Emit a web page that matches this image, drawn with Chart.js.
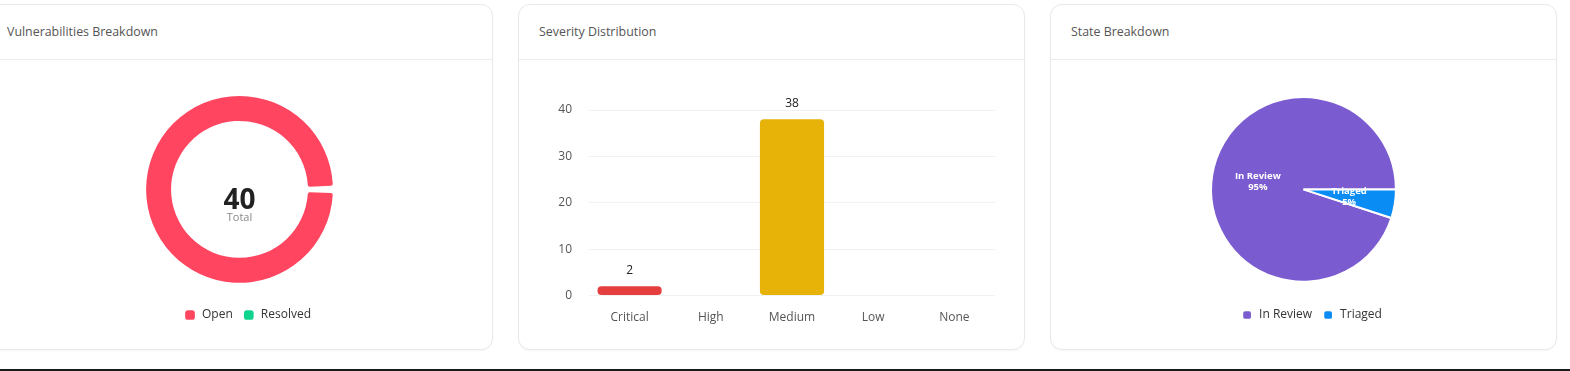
<!DOCTYPE html>
<html>
<head>
<meta charset="utf-8">
<script src="https://cdn.jsdelivr.net/npm/chart.js@4.4.1/dist/chart.umd.min.js"></script>
<style>
  html, body { margin: 0; padding: 0; background: #fff; width: 1570px; height: 371px; overflow: hidden; font-family: "Open Sans", "Noto Sans", sans-serif; }
  .card { position: absolute; top: 4px; width: 505px; height: 344px; border: 1px solid #e9e9e9; border-radius: 12px; background: #fff; box-shadow: 0 1px 2px rgba(0,0,0,0.04); }
  .hdr { position: absolute; left: 0; top: 0; right: 0; height: 54px; border-bottom: 1px solid #ececec; }
  .hdr span { position: absolute; left: 20px; top: 18px; font-size: 12.4px; color: #555; }
  .body { position: absolute; left: -1px; top: 55px; width: 507px; height: 290px; }
  .bottomline { position: absolute; left: 0; top: 369px; width: 1570px; height: 2px; background: #1a1a1a; }
</style>
</head>
<body>
<div class="card" style="left:-14px"><div class="hdr"><span>Vulnerabilities Breakdown</span></div><div class="body"><canvas id="c1" width="507" height="290"></canvas></div></div>
<div class="card" style="left:518px"><div class="hdr"><span>Severity Distribution</span></div><div class="body"><canvas id="c2" width="507" height="290"></canvas></div></div>
<div class="card" style="left:1050px"><div class="hdr"><span>State Breakdown</span></div><div class="body"><canvas id="c3" width="507" height="290"></canvas></div></div>
<div class="bottomline"></div>
<script>
// ---- data ----
const statusLabels = ['Open', 'Resolved'];
const statusValues = [40, 0];
const statusColors = ['#ff4560', '#10d48e'];

const severityLabels = ['Critical', 'High', 'Medium', 'Low', 'None'];
const severityValues = [2, 0, 38, 0, 0];
const severityColors = ['#e53e3e', '#f97316', '#e8b308', '#3b82f6', '#9ca3af'];
const severityTicks = [0, 10, 20, 30, 40];

const stateLabels = ['In Review', 'Triaged'];
const stateValues = [38, 2];
const statePercents = ['95%', '5%'];
const stateColors = ['#7b5cd0', '#0a8cf5'];

const FONT = '"Open Sans", "Noto Sans", sans-serif';
Chart.defaults.font.family = FONT;
Chart.defaults.font.size = 12;
Chart.defaults.color = '#333';
Chart.defaults.animation = false;

const legendOpts = {
  position: 'bottom',
  title: { display: true, text: '', padding: { top: 15, bottom: 0 }, font: { size: 1 } },
  labels: { usePointStyle: true, pointStyle: 'rectRounded', boxWidth: 13, boxHeight: 8, padding: 10, color: '#333', font: { size: 12 } }
};
// nudge legend slightly right, as in the reference
const legendShift = {
  id: 'legendShift',
  afterLayout(chart) {
    if (chart.legend) { chart.legend.left += 8; chart.legend.right += 8; }
  }
};

// ---- donut ----
const centerText = {
  id: 'centerText',
  afterDraw(chart) {
    const arc = chart.getDatasetMeta(0).data[0];
    const x = arc.x, y = arc.y;
    const ctx = chart.ctx;
    ctx.save();
    ctx.textAlign = 'center';
    ctx.textBaseline = 'middle';
    ctx.fillStyle = '#222';
    ctx.font = 'bold 28px ' + FONT;
    const total = statusValues.reduce((a, b) => a + b, 0);
    ctx.fillText(String(total), x, y + 12);
    ctx.fillStyle = '#888';
    ctx.font = '11px ' + FONT;
    ctx.fillText('Total', x, y + 28);
    ctx.restore();
  }
};
new Chart(document.getElementById('c1'), {
  type: 'doughnut',
  data: { labels: statusLabels, datasets: [{ data: statusValues, backgroundColor: statusColors, borderWidth: 0, spacing: 2, borderRadius: 2 }] },
  options: {
    responsive: false, rotation: 90, cutout: '73%',
    layout: { padding: { top: 36, bottom: 19 } },
    plugins: { legend: legendOpts, tooltip: { enabled: false } }
  },
  plugins: [centerText, legendShift]
});

// ---- bars ----
const barLabels = {
  id: 'barLabels',
  afterDatasetsDraw(chart) {
    const ctx = chart.ctx;
    const meta = chart.getDatasetMeta(0);
    ctx.save();
    ctx.textAlign = 'center';
    ctx.textBaseline = 'middle';
    ctx.fillStyle = '#222';
    ctx.font = '12px ' + FONT;
    meta.data.forEach((bar, i) => {
      const v = severityValues[i];
      if (v > 0) ctx.fillText(String(v), bar.x, bar.y - 16);
    });
    ctx.restore();
  }
};
new Chart(document.getElementById('c2'), {
  type: 'bar',
  data: { labels: severityLabels, datasets: [{ data: severityValues, backgroundColor: severityColors, borderRadius: 4, borderSkipped: false, categoryPercentage: 1, barPercentage: 0.79 }] },
  options: {
    responsive: false,
    layout: { padding: { top: 50, right: 30, bottom: 10, left: 0 } },
    plugins: { legend: { display: false }, tooltip: { enabled: false } },
    scales: {
      x: {
        grid: { display: false, drawTicks: false },
        border: { display: false },
        ticks: { color: '#555', padding: 15, font: { size: 12 } }
      },
      y: {
        min: 0, max: 40,
        afterBuildTicks(axis) { axis.ticks = severityTicks.map(v => ({ value: v })); },
        afterFit(axis) { axis.width = 71; },
        grid: { color: '#f2f2f2', drawTicks: false },
        border: { display: false },
        ticks: { color: '#555', padding: 17, font: { size: 12 } }
      }
    }
  },
  plugins: [barLabels]
});

// ---- pie ----
const pieLabels = {
  id: 'pieLabels',
  afterDatasetsDraw(chart) {
    const ctx = chart.ctx;
    const meta = chart.getDatasetMeta(0);
    ctx.save();
    ctx.textAlign = 'center';
    ctx.textBaseline = 'middle';
    ctx.fillStyle = '#fff';
    ctx.font = 'bold 9.5px ' + FONT;
    meta.data.forEach((arc, i) => {
      const p = arc.tooltipPosition();
      ctx.fillText(stateLabels[i], p.x, p.y - 5.5);
      ctx.fillText(statePercents[i], p.x, p.y + 5.5);
    });
    ctx.restore();
  }
};
new Chart(document.getElementById('c3'), {
  type: 'pie',
  data: { labels: stateLabels, datasets: [{ data: stateValues, backgroundColor: stateColors, borderColor: '#fff', borderWidth: 2 }] },
  options: {
    responsive: false, rotation: 108,
    layout: { padding: { top: 36, bottom: 19 } },
    plugins: { legend: legendOpts, tooltip: { enabled: false } }
  },
  plugins: [pieLabels, legendShift]
});
</script>
</body>
</html>
